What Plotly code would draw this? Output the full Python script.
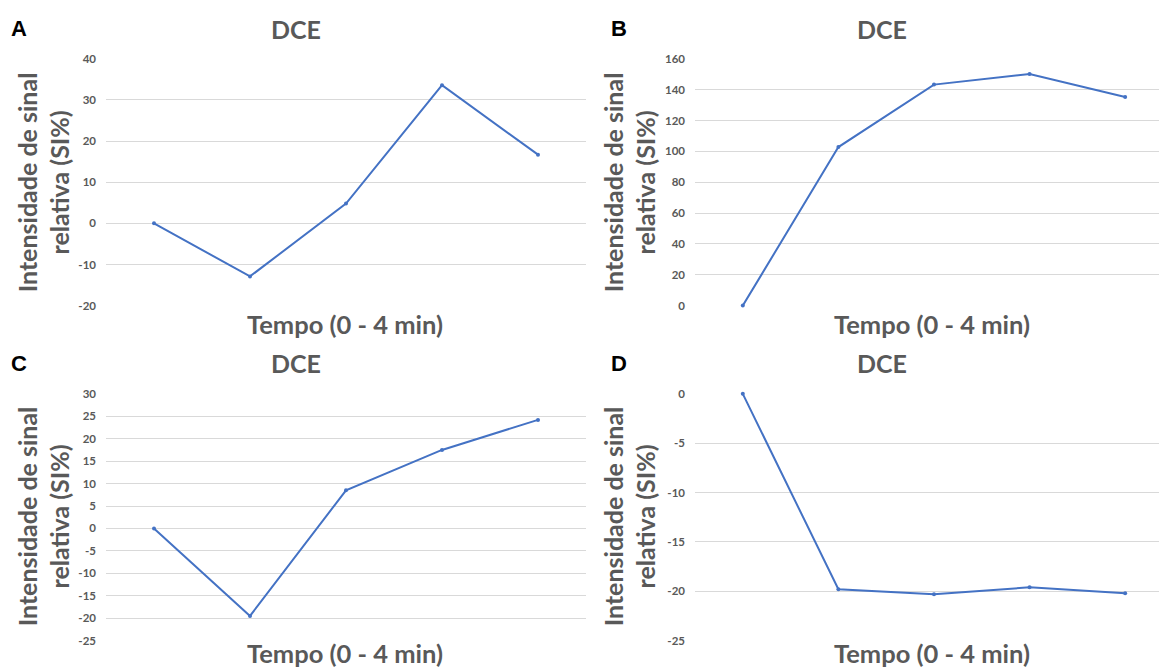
import plotly.graph_objects as go

categories = ["0", "1", "2", "3", "4"]
series_a = [0, -12.9, 4.8, 33.6, 16.7]
series_b = [0, 102.8, 143.3, 150.2, 135.3]
series_c = [0, -19.5, 8.5, 17.5, 24.2]
series_d = [0, -19.8, -20.3, -19.6, -20.2]

ticks_a = [-20, -10, 0, 10, 20, 30, 40]
ticks_b = [0, 20, 40, 60, 80, 100, 120, 140, 160]
ticks_c = [-25, -20, -15, -10, -5, 0, 5, 10, 15, 20, 25, 30]
ticks_d = [-25, -20, -15, -10, -5, 0]

panel_letters = ["A", "B", "C", "D"]
chart_title = "DCE"
x_title = "Tempo (0 - 4 min)"
y_title = "Intensidade de sinal<br>relativa (SI%)"

W, H = 1159, 669
FONT = "Lato"
GRAY = "#595959"
LINE = "#4472C4"

def px(x):
    return x / W

def py(y):
    y = (y - 7.3) / 0.9776
    return 1 - y / H

panels = [
    dict(data=series_a, ticks=ticks_a, x0=106, x1=586, y0=59, y1=305, xr=[-0.5, 4.5]),
    dict(data=series_b, ticks=ticks_b, x0=695, x1=1159, y0=59, y1=305, xr=[-0.5, 4.354]),
    dict(data=series_c, ticks=ticks_c, x0=106, x1=586, y0=393, y1=639, xr=[-0.5, 4.5]),
    dict(data=series_d, ticks=ticks_d, x0=695, x1=1159, y0=393, y1=639, xr=[-0.5, 4.354]),
]

fig = go.Figure()
layout = dict(
    width=W, height=H, margin=dict(l=0, r=0, t=0, b=0),
    paper_bgcolor="white", plot_bgcolor="white", showlegend=False,
)
annotations = []
title_centers = [(296, 29), (882, 29), (296, 362), (882, 362)]
letter_pos = [(19, 29), (619, 29), (19, 363), (619, 363)]
xt_pos = [(345, 323), (932, 323), (345, 651), (932, 651)]
yt_pos = [(43, 182), (629, 182), (43, 515), (629, 515)]

for i, p in enumerate(panels):
    n = "" if i == 0 else str(i + 1)
    xa, ya = "x" + n, "y" + n
    fig.add_trace(go.Scatter(
        x=list(range(len(categories))), y=p["data"], xaxis=xa, yaxis=ya,
        mode="lines+markers", line=dict(color=LINE, width=2),
        marker=dict(color=LINE, size=4), cliponaxis=False,
        hoverinfo="skip",
    ))
    layout["xaxis" + n] = dict(
        domain=[px(p["x0"]), px(p["x1"])], range=p["xr"], anchor=ya,
        showgrid=False, zeroline=False, showline=False, showticklabels=False,
        ticks="", fixedrange=True,
    )
    tv = p["ticks"]
    layout["yaxis" + n] = dict(
        domain=[py(p["y1"]), py(p["y0"])], range=[min(tv), max(tv)], anchor=xa,
        tickmode="array", tickvals=tv, ticktext=[str(v) for v in tv],
        showgrid=True, gridcolor="#D9D9D9", gridwidth=1,
        zeroline=False, showline=False, ticks="", ticklabelstandoff=9,
        tickfont=dict(family=FONT, size=11.5, color=GRAY, weight="bold"),
        fixedrange=True,
    )
    tx, ty = title_centers[i]
    annotations.append(dict(
        text=chart_title, x=px(tx), y=py(ty), xref="paper", yref="paper",
        showarrow=False, xanchor="center", yanchor="middle",
        font=dict(family=FONT, size=25, color=GRAY, weight="bold"),
    ))
    lx, ly = letter_pos[i]
    annotations.append(dict(
        text=panel_letters[i], x=px(lx), y=py(ly), xref="paper", yref="paper",
        showarrow=False, xanchor="center", yanchor="middle",
        font=dict(family="Liberation Sans", size=22, color="black", weight="bold"),
    ))
    xx, xy = xt_pos[i]
    annotations.append(dict(
        text=x_title, x=px(xx), y=py(xy), xref="paper", yref="paper",
        showarrow=False, xanchor="center", yanchor="middle",
        font=dict(family=FONT, size=25.5, color=GRAY, weight="bold"),
    ))
    yx, yy = yt_pos[i]
    annotations.append(dict(
        text=y_title, x=px(yx), y=py(yy), xref="paper", yref="paper",
        showarrow=False, xanchor="center", yanchor="middle", textangle=-90,
        font=dict(family=FONT, size=25, color=GRAY, weight="bold"),
    ))

layout["annotations"] = annotations
fig.update_layout(**layout)
fig.write_html("out.html")
